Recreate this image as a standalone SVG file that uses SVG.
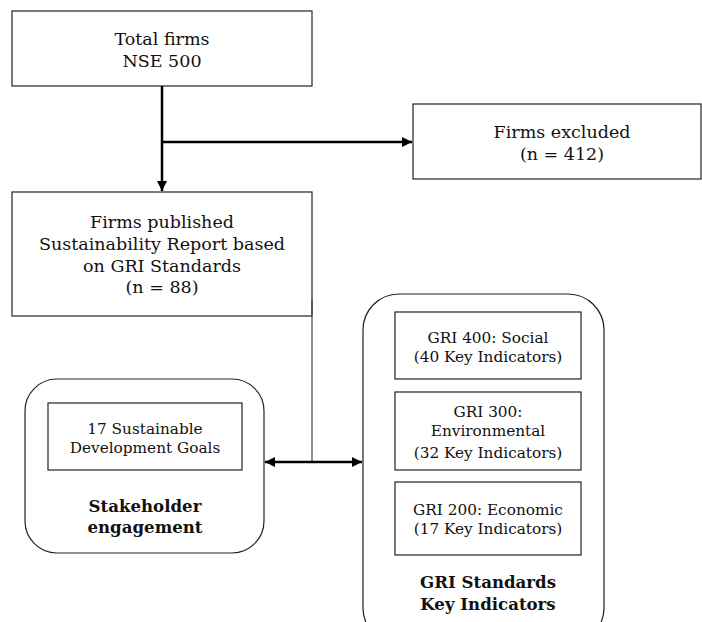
<svg xmlns="http://www.w3.org/2000/svg" width="702" height="622" viewBox="0 0 702 622">
<defs>
<marker id="ah" viewBox="0 0 10 10" refX="10" refY="5" markerWidth="6" markerHeight="4" orient="auto-start-reverse" markerUnits="strokeWidth">
<path d="M0,0 L10,5 L0,10 z" fill="#000"/>
</marker>
<style>
.box{fill:#fff;stroke:#222;stroke-width:1.2}
.t{font-family:"DejaVu Serif","Liberation Serif",serif;font-size:17.5px;fill:#111;text-anchor:middle}
.s{font-family:"DejaVu Serif","Liberation Serif",serif;font-size:15.3px;fill:#111;text-anchor:middle}
.b{font-family:"DejaVu Serif","Liberation Serif",serif;font-size:16.6px;font-weight:bold;fill:#111;text-anchor:middle}
.c{fill:none;stroke:#000;stroke-width:2.5}
.thin{fill:none;stroke:#444;stroke-width:1.2}
</style>
</defs>
<rect width="702" height="622" fill="#fff"/>
<g id="total">
<rect class="box" x="12" y="11" width="300" height="75"/>
<text class="t" x="162" y="45">Total firms</text>
<text class="t" x="162" y="67">NSE 500</text>
</g>
<g id="excluded">
<rect class="box" x="413" y="104" width="288" height="75"/>
<text class="t" x="562" y="138">Firms excluded</text>
<text class="t" x="562" y="160">(n = 412)</text>
</g>
<g id="published">
<rect class="box" x="12" y="192" width="300" height="124"/>
<text class="t" x="162" y="228">Firms published</text>
<text class="t" x="162" y="250">Sustainability Report based</text>
<text class="t" x="162" y="272">on GRI Standards</text>
<text class="t" x="162" y="293">(n = 88)</text>
</g>
<g id="stakeholder">
<rect class="box" x="25" y="379" width="239" height="174" rx="32" ry="32"/>
<rect class="box" x="48" y="403" width="194" height="67"/>
<text class="s" x="145" y="434">17 Sustainable</text>
<text class="s" x="145" y="453">Development Goals</text>
<text class="b" x="145" y="512">Stakeholder</text>
<text class="b" x="145" y="533">engagement</text>
</g>
<g id="gri">
<rect class="box" x="363" y="294" width="241" height="350" rx="36" ry="36"/>
<rect class="box" x="395" y="312" width="186" height="67"/>
<text class="s" x="488" y="343">GRI 400: Social</text>
<text class="s" x="488" y="362">(40 Key Indicators)</text>
<rect class="box" x="395" y="392" width="186" height="78"/>
<text class="s" x="488" y="417">GRI 300:</text>
<text class="s" x="488" y="436">Environmental</text>
<text class="s" x="488" y="458">(32 Key Indicators)</text>
<rect class="box" x="395" y="482" width="186" height="73"/>
<text class="s" x="488" y="515">GRI 200: Economic</text>
<text class="s" x="488" y="534">(17 Key Indicators)</text>
<text class="b" x="488" y="588">GRI Standards</text>
<text class="b" x="488" y="610">Key Indicators</text>
</g>
<g id="connectors">
<line class="c" x1="162" y1="86" x2="162" y2="191" marker-end="url(#ah)"/>
<line class="c" x1="162" y1="142" x2="412" y2="142" marker-end="url(#ah)"/>
<line class="thin" x1="312" y1="300" x2="312" y2="462"/>
<line class="c" x1="265" y1="462" x2="362" y2="462" marker-start="url(#ah)" marker-end="url(#ah)"/>
</g>
</svg>
